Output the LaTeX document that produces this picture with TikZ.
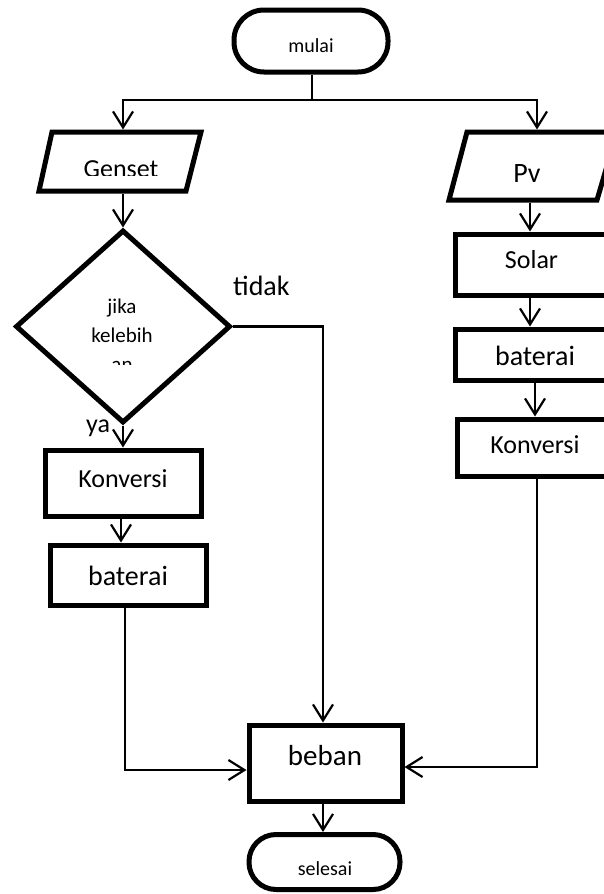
\documentclass[tikz,border=0pt]{standalone}
\usepackage{fontspec}
\setmainfont{Carlito}
\usetikzlibrary{arrows.meta,shapes.geometric}
\begin{document}
\begin{tikzpicture}[x=1pt,y=-1pt,
  shapeline/.style={draw=black, line width=5pt},
  boxnode/.style={shapeline, rectangle, inner sep=0pt},
  ghost/.style={rectangle, inner sep=0pt, outer sep=2.5pt},
  conn/.style={draw=black, line width=2.2pt},
  arr/.style={conn, -{Straight Barb[length=16pt,width=20pt]}},
  txt/.style={anchor=base, inner sep=0pt, text=black},
]
\useasboundingbox (0,0) rectangle (603,894);

% terminators
\node[shapeline, rectangle, rounded corners=30pt, minimum width=154pt, minimum height=62pt, inner sep=0pt] (mulai) at (311,41) {};
\node[shapeline, rectangle, rounded corners=27pt, minimum width=151pt, minimum height=55pt, inner sep=0pt] (selesai) at (324.5,862) {};

% input parallelograms
\draw[shapeline] (52,132) -- (201,132) -- (186,191) -- (39,191) -- cycle;
\node[ghost, minimum width=140pt, minimum height=59pt] (gen) at (123,161.5) {};
\draw[shapeline] (467,132) -- (617,132) -- (597,200) -- (449,200) -- cycle;
\node[ghost, minimum width=140pt, minimum height=68pt] (pv) at (537,166) {};

% decision
\node[shapeline, diamond, minimum width=215pt, minimum height=193pt, inner sep=0pt] (dia) at (123,326.5) {};

% process boxes
\node[boxnode, minimum width=156pt, minimum height=66pt] (konv1) at (123,483) {};
\node[boxnode, minimum width=156pt, minimum height=60pt] (bat1) at (128,575) {};
\node[boxnode, minimum width=165pt, minimum height=61pt] (solar) at (537.5,264.5) {};
\node[boxnode, minimum width=165pt, minimum height=51pt] (bat2) at (537.5,354.5) {};
\node[boxnode, minimum width=163pt, minimum height=57pt] (konv2) at (538.5,447.5) {};
\node[boxnode, minimum width=153pt, minimum height=76pt] (beban) at (325.5,763) {};

% texts
\node[txt, font=\fontsize{20}{24}\selectfont] (tmulai) at (311,52) {mulai};
\begin{scope}
\clip (0,0) rectangle (603,175);
\node[txt, font=\fontsize{26}{30}\selectfont] (tgen) at (121,177) {Genset};
\end{scope}
\node[txt, font=\fontsize{28}{32}\selectfont] (tpv) at (527,182) {Pv};
\node[txt, font=\fontsize{26}{30}\selectfont] (tsolar) at (531.5,268) {Solar};
\node[txt, font=\fontsize{28}{32}\selectfont] (tbat2) at (535,365) {baterai};
\node[txt, font=\fontsize{26}{30}\selectfont] (tkonv2) at (535,453) {Konversi};
\node[txt, font=\fontsize{21}{25}\selectfont] (tjika) at (122,313) {jika};
\node[txt, font=\fontsize{21}{25}\selectfont] (tkel) at (122,342) {kelebih};
\begin{scope}
\clip (0,0) rectangle (603,364);
\node[txt, font=\fontsize{21}{25}\selectfont] (tan) at (122,371) {an};
\end{scope}
\node[txt, font=\fontsize{28}{32}\selectfont, anchor=base west] (ttidak) at (233,295) {tidak};
\node[txt, font=\fontsize{26}{30}\selectfont, anchor=base west] (tya) at (86,432) {ya};
\node[txt, font=\fontsize{26}{30}\selectfont] (tkonv1) at (123,487) {Konversi};
\node[txt, font=\fontsize{28}{32}\selectfont] (tbat1) at (128,585) {baterai};
\node[txt, font=\fontsize{29}{33}\selectfont] (tbeban) at (325,765) {beban};
\node[txt, font=\fontsize{20}{24}\selectfont] (tsel) at (325,875) {selesai};

% connectors
\coordinate (jn) at (312,100);
\coordinate (rx1) at (530,0);
\coordinate (rx2) at (535,0);
\coordinate (lx) at (121,0);
\coordinate (mx) at (323,0);
\coordinate (bR) at (537,767);
\coordinate (bL) at (125,770);
\coordinate (tR) at (323,326.5);

\draw[conn] (mulai.south -| jn) -- (jn);
\draw[arr] (jn) -| (gen.north);
\draw[arr] (jn) -| (pv.north);
\draw[arr] (gen.south) -- (dia.north);
\draw[arr] (pv.south -| rx1) -- (solar.north -| rx1);
\draw[arr] (solar.south -| rx1) -- (bat2.north -| rx1);
\draw[arr] (bat2.south -| rx2) -- (konv2.north -| rx2);
\draw[arr] (konv2.south -| bR) -- (bR) -- (bR -| beban.east);
\draw[arr] (dia.east) -- (tR) -- (tR |- beban.north);
\draw[arr] (dia.south) -- (konv1.north);
\draw[arr] (konv1.south -| lx) -- (bat1.north -| lx);
\draw[arr] (bat1.south -| bL) -- (bL) -- (bL -| beban.west);
\draw[arr] (beban.south -| mx) -- (selesai.north -| mx);
\end{tikzpicture}
\end{document}
